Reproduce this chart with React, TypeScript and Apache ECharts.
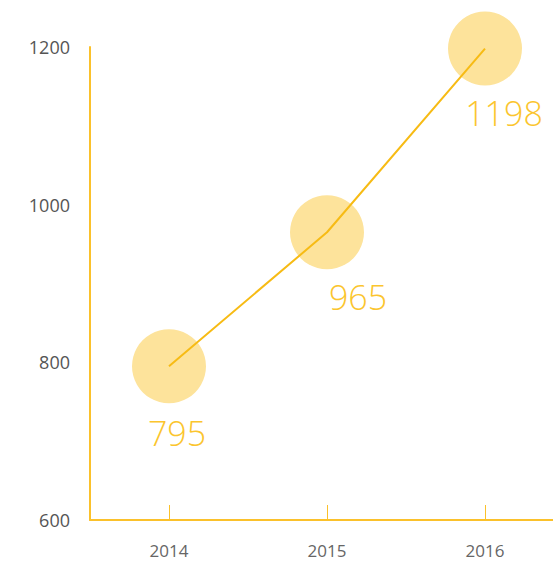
import React, { useEffect, useRef } from "react";
import * as echarts from "echarts";

const years = ["2014", "2015", "2016"];
const values = [795, 965, 1198];
const yTicks = [600, 800, 1000, 1200];

const labelOffsets: number[][] = [
  [8, 0],
  [31, -2],
  [19, -3],
];

export default function App() {
  const ref = useRef<HTMLDivElement>(null);
  useEffect(() => {
    if (!ref.current) return;
    const chart = echarts.init(ref.current, undefined, { renderer: "svg" });
    const font = "'Open Sans', 'Noto Sans', sans-serif";
    chart.setOption({
      animation: false,
      backgroundColor: "#ffffff",
      grid: { left: 90, top: 47, bottom: 42, right: -11, outerBoundsMode: "none", containLabel: false },
      xAxis: {
        type: "category",
        data: years,
        boundaryGap: true,
        axisLine: { lineStyle: { color: "#fbc12b", width: 2 } },
        axisTick: { show: true, inside: true, alignWithLabel: true, length: 15, lineStyle: { color: "#fbc12b", width: 1 } },
        axisLabel: { color: "#666666", fontSize: 17, margin: 22, fontFamily: font },
        splitLine: { show: false },
      },
      yAxis: {
        type: "value",
        min: yTicks[0],
        max: yTicks[yTicks.length - 1],
        interval: 200,
        axisLine: { show: true, lineStyle: { color: "#fbc12b", width: 2 } },
        axisTick: { show: false },
        axisLabel: {
          color: "#555555",
          fontSize: 18,
          margin: 20,
          fontFamily: font,
          formatter: (v: number) => String(v),
        },
        splitLine: { show: false },
      },
      series: [
        {
          type: "scatter",
          data: values.map((v, i) => ({
            value: v,
            label: { offset: labelOffsets[i] },
          })),
          symbolSize: 74,
          z: 1,
          itemStyle: { color: "#fde39b", opacity: 1 },
          label: {
            show: true,
            position: "bottom",
            distance: 13,
            color: "#fbc52e",
            fontSize: 34,
            fontWeight: 300,
            fontFamily: font,
          },
          emphasis: { disabled: true },
        },
        {
          type: "line",
          data: values,
          showSymbol: false,
          symbol: "none",
          z: 3,
          lineStyle: { color: "#f7bb14", width: 2 },
          emphasis: { disabled: true },
        },
      ],
    });
    return () => chart.dispose();
  }, []);
  return (
    <div
      ref={ref}
      style={{ position: "fixed", left: 0, top: 0, width: 553, height: 562 }}
    />
  );
}
